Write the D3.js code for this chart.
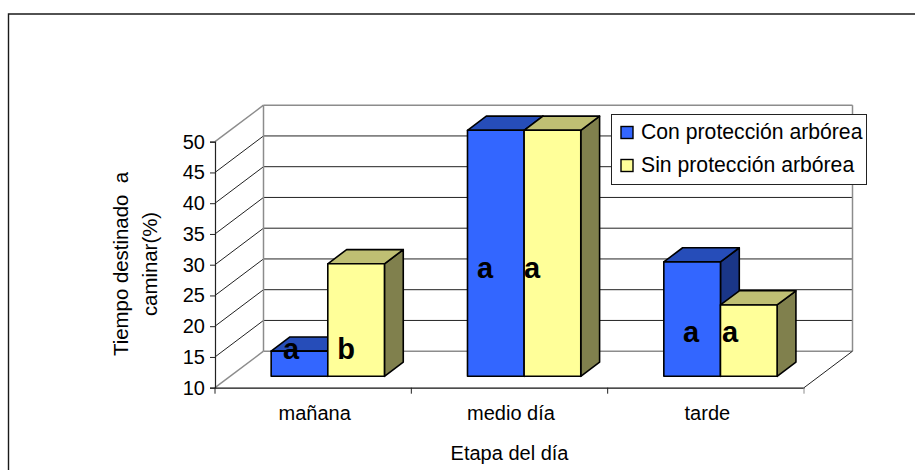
<!DOCTYPE html>
<html>
<head>
<meta charset="utf-8">
<script src="https://cdn.jsdelivr.net/npm/d3@7"></script>
<style>
  html, body { margin: 0; background: #fff; }
  svg { display: block; }
  text { font-family: "Liberation Sans", Arial, sans-serif; fill: #000; white-space: pre; }
</style>
</head>
<body>
<div id="chart"></div>
<script>
const categories = ["mañana", "medio día", "tarde"];
const seriesNames = ["Con protección arbórea", "Sin protección arbórea"];
const conProteccion = [14.1, 50, 28.6];
const sinProteccion = [28.3, 50, 21.6];
const letrasCon = ["a", "a", "a"];
const letrasSin = ["b", "a", "a"];
const yTicks = [10, 15, 20, 25, 30, 35, 40, 45, 50];

const width = 915;
const height = 470;
const AXIS_LEFT = 215;
const AXIS_RIGHT = 804;
const AXIS_BOTTOM = 387.7;
const AXIS_TOP = 141.7;
// oblique offset between the front edge of the floor and the back wall
const DEPTH_X = 48.5;
const DEPTH_Y = 36.5;
// where the bars stand inside that depth
const BAR_FRONT = 0.312;
const BAR_BACK = 0.7;
const FONT_SIZE = "20px";

const FILLS = [
  { front: "#3366ff", top: "#264db9", side: "#1a3688" },
  { front: "#ffff99", top: "#bfbf73", side: "#80804d" },
];

const svg = d3
  .select("#chart")
  .append("svg")
  .attr("width", width)
  .attr("height", height);

const x = d3
  .scaleBand()
  .domain(categories)
  .range([AXIS_LEFT, AXIS_RIGHT])
  .paddingInner(0)
  .paddingOuter(0);

const y = d3.scaleLinear().domain([10, 50]).range([AXIS_BOTTOM, AXIS_TOP]);

const line = (x1, y1, x2, y2, color, w) =>
  svg
    .append("line")
    .attr("x1", x1)
    .attr("y1", y1)
    .attr("x2", x2)
    .attr("y2", y2)
    .attr("stroke", color)
    .attr("stroke-width", w);

// outer frame, open at the bottom and on the right
svg
  .append("path")
  .attr("d", "M8.5,470V14H915")
  .attr("fill", "none")
  .attr("stroke", "#1a1a1a")
  .attr("stroke-width", 1.4);

// grid on the side wall and the back wall
yTicks.slice(1, -1).forEach((t) => {
  line(AXIS_LEFT, y(t), AXIS_LEFT + DEPTH_X, y(t) - DEPTH_Y, "#222", 1);
  line(AXIS_LEFT + DEPTH_X, y(t) - DEPTH_Y, AXIS_RIGHT + DEPTH_X, y(t) - DEPTH_Y, "#222", 1);
});

// walls and floor outline
const GREY = "#8c8c8c";
line(AXIS_LEFT + DEPTH_X, y(50) - DEPTH_Y, AXIS_RIGHT + DEPTH_X, y(50) - DEPTH_Y, GREY, 1.5);
line(AXIS_LEFT + DEPTH_X, y(10) - DEPTH_Y, AXIS_RIGHT + DEPTH_X, y(10) - DEPTH_Y, GREY, 1.5);
line(AXIS_LEFT + DEPTH_X, y(50) - DEPTH_Y, AXIS_LEFT + DEPTH_X, y(10) - DEPTH_Y, GREY, 1.5);
line(AXIS_RIGHT + DEPTH_X, y(50) - DEPTH_Y, AXIS_RIGHT + DEPTH_X, y(10) - DEPTH_Y, GREY, 1.5);
line(AXIS_LEFT, y(50), AXIS_LEFT + DEPTH_X, y(50) - DEPTH_Y, GREY, 1.5);
line(AXIS_LEFT, y(10), AXIS_LEFT + DEPTH_X, y(10) - DEPTH_Y, GREY, 1.5);
line(AXIS_RIGHT, y(10), AXIS_RIGHT + DEPTH_X, y(10) - DEPTH_Y, "#222", 1);

// value axis
const yAxis = svg
  .append("g")
  .attr("transform", `translate(${AXIS_LEFT},0)`)
  .call(d3.axisLeft(y).tickValues(yTicks).tickSize(5).tickPadding(5));
yAxis.select(".domain").attr("stroke", "#222").attr("stroke-width", 1.2);
yAxis.selectAll("line").attr("stroke", "#222");
yAxis.selectAll("text").style("font-size", FONT_SIZE).attr("fill", "#000");

// category axis, ticks sit on the band edges
const xAxis = svg
  .append("g")
  .attr("transform", `translate(0,${AXIS_BOTTOM})`)
  .call(d3.axisBottom(x).tickSize(0).tickPadding(18));
xAxis.select(".domain").attr("stroke", "#111").attr("stroke-width", 1.2);
xAxis.selectAll("text").style("font-size", FONT_SIZE).attr("fill", "#000").attr("dx", 1.5);
[AXIS_LEFT, x("medio día"), x("tarde"), AXIS_RIGHT].forEach((px, i) =>
  line(px, AXIS_BOTTOM, px, AXIS_BOTTOM + 6, i === 3 ? GREY : "#222", 1)
);

// 3d columns
const BAR_WIDTH = x.bandwidth() * 0.2885;
const series = [conProteccion, sinProteccion];
const bars = [];
categories.forEach((c, ci) => {
  series.forEach((values, si) => {
    bars.push({ c, si, value: values[ci] });
  });
});

const frontX = (d) =>
  x(d.c) + (x.bandwidth() - 2 * BAR_WIDTH) / 2 + d.si * BAR_WIDTH + DEPTH_X * BAR_FRONT - 0.5;
const frontY = (v) => y(v) - DEPTH_Y * BAR_FRONT;
const offX = DEPTH_X * (BAR_BACK - BAR_FRONT);
const offY = DEPTH_Y * (BAR_BACK - BAR_FRONT);

const barGroup = svg
  .append("g")
  .attr("stroke", "#000")
  .attr("stroke-width", 1.6)
  .attr("stroke-linejoin", "round");

// back to front within each pair: first column, then the one beside it
bars.forEach((d) => {
  const x0 = frontX(d);
  const x1 = x0 + BAR_WIDTH;
  const yt = frontY(d.value);
  const yb = frontY(10);
  const f = FILLS[d.si];
  barGroup
    .append("path")
    .attr("fill", f.side)
    .attr("d", `M${x1},${yt}L${x1 + offX},${yt - offY}V${yb - offY}L${x1},${yb}Z`);
  barGroup
    .append("path")
    .attr("fill", f.top)
    .attr("d", `M${x0},${yt}L${x0 + offX},${yt - offY}H${x1 + offX}L${x1},${yt}Z`);
  barGroup
    .append("rect")
    .attr("x", x0)
    .attr("y", yt)
    .attr("width", BAR_WIDTH)
    .attr("height", yb - yt)
    .attr("fill", f.front);
});

// significance letters, placed by hand next to each column
const letterX = [
  [291, 346],
  [485, 532],
  [691, 730],
];
const letterY = [358.7, 278, 341.7];
categories.forEach((c, ci) => {
  [letrasCon, letrasSin].forEach((letters, si) => {
    svg
      .append("text")
      .attr("x", letterX[ci][si])
      .attr("y", letterY[ci])
      .attr("text-anchor", "middle")
      .style("font-size", "29px")
      .style("font-weight", "bold")
      .text(letters[ci]);
  });
});

// axis titles
svg
  .append("text")
  .attr("x", 509.5)
  .attr("y", 460)
  .attr("text-anchor", "middle")
  .style("font-size", FONT_SIZE)
  .text("Etapa del día");

const yTitle = svg
  .append("text")
  .attr("transform", "translate(128,264) rotate(-90)")
  .attr("text-anchor", "middle")
  .style("font-size", "20.4px");
yTitle.append("tspan").attr("x", 0).attr("y", 0).text("Tiempo destinado  a");
yTitle.append("tspan").attr("x", 0).attr("y", 29).text("caminar(%)");

// legend
const legend = svg.append("g");
legend
  .append("rect")
  .attr("x", 611.5)
  .attr("y", 114.5)
  .attr("width", 255)
  .attr("height", 70)
  .attr("fill", "#fff")
  .attr("stroke", "#222")
  .attr("stroke-width", 1);
seriesNames.forEach((name, i) => {
  const ly = 126.5 + i * 33;
  legend
    .append("rect")
    .attr("x", 621)
    .attr("y", ly)
    .attr("width", 12)
    .attr("height", 12)
    .attr("fill", FILLS[i].front)
    .attr("stroke", "#000")
    .attr("stroke-width", 1.4);
  legend
    .append("text")
    .attr("x", 641)
    .attr("y", ly + 12)
    .style("font-size", "21.2px")
    .text(name);
});
</script>
</body>
</html>
